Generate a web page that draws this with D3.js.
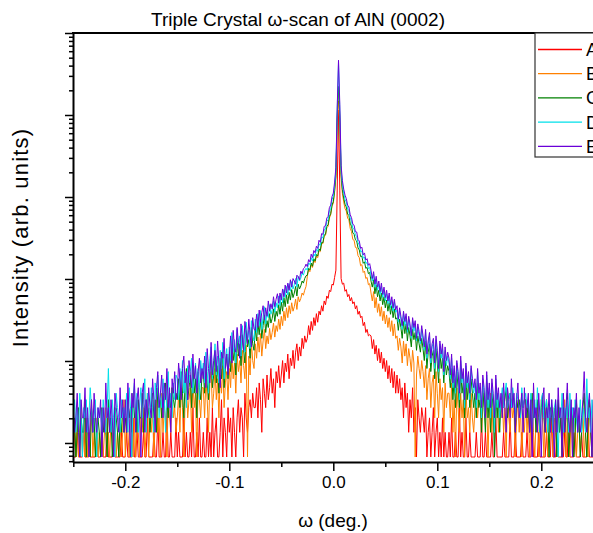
<!DOCTYPE html>
<html>
<head>
<meta charset="utf-8">
<script src="https://cdn.jsdelivr.net/npm/d3@7"></script>
<style>
  body { margin: 0; background: #fff; }
  svg { display: block; font-family: "Liberation Sans", Arial, sans-serif; }
</style>
</head>
<body>
<svg id="chart" width="593" height="533"></svg>
<script>
//scan grid: omega from -0.25 to 0.25 deg, step 0.00125 (401 points)
var omegaStart = -0.25;
var omegaStep = 0.00125;
var seriesNames = ["A", "B", "C", "D", "E"];
var seriesColors = ["#ff0000", "#ff8000", "#008000", "#00e0ea", "#6a00d8"];
var xTickLabels = ["-0.2", "-0.1", "0.0", "0.1", "0.2"];
var xTickValues = [-0.2, -0.1, 0.0, 0.1, 0.2];
var xMinorValues = [-0.25, -0.15, -0.05, 0.05, 0.15, 0.25];

//counts: left wing, peak, right wing
var countsA = [
  1,1,1,2,1,1,1,1,3,1,1,1,2,1,1,1,1,1,2,1,
  1,1,2,1,1,1,3,1,1,1,1,2,1,1,1,1,1,2,1,1,
  1,2,1,1,1,1,3,1,1,2,1,1,1,1,2,1,1,3,1,1,
  1,1,2,1,1,3,1,1,1,2,1,1,4,1,1,2,1,1,1,3,
  1,2,1,1,1,3,1,2,1,1,2,1,4,1,1,2,1,3,1,1,
  2,1,1,3,1,2,1,4,1,2,3,1,1,2,5,1,3,2,1,4,
  2,3,1,4,2,1,3,5,2,4,3,1,6,3,2,4,5,3,6,4,
  4,7,3,8,5,2,9,6,4,10,5,7,12,6,9,4,11,8,13,7,
  10,15,8,14,11,18,9,16,13,20,12,19,24,15,22,17,28,21,30,25,
  28,40,31,45,35,50,40,56,44,60,54,70,60,80,72,92,86,108,104,128,125,155,190,1800,
  17000,
  1800,150,128,132,105,110,90,96,80,88,74,78,64,70,55,60,50,52,40,44,33,36,30,31,
  30,21,27,18,23,15,21,14,19,12,16,11,15,9,13,8,12,7,11,6,
  10,6,9,5,7,3,8,4,6,2,5,3,7,2,4,1,5,3,2,4,
  3,2,4,1,2,3,1,2,4,1,2,3,1,2,1,3,1,2,1,1,
  2,1,3,1,1,2,1,1,4,1,2,1,1,3,1,1,2,1,1,1,
  1,2,1,1,1,3,1,1,2,1,1,1,1,2,1,1,3,1,1,1,
  1,1,2,1,1,1,1,3,1,1,1,2,1,1,1,1,2,1,1,1,
  2,1,1,1,3,1,1,1,1,2,1,1,1,1,1,2,1,1,1,3,
  1,1,1,2,1,1,1,1,1,2,1,1,3,1,1,1,1,2,1,1,
  1,1,2,1,1,1,1,3,1,1,1,1
];
var countsB = [
  1,2,1,3,1,2,4,1,2,1,3,1,1,2,5,1,2,1,3,1,
  2,1,3,1,2,4,1,2,1,3,2,1,4,1,2,1,3,1,2,5,
  1,3,2,1,4,2,1,3,1,5,2,1,3,2,4,1,2,6,1,3,
  2,4,1,3,5,2,3,1,6,2,4,3,1,5,3,2,7,3,4,2,
  3,6,2,7,4,1,5,8,3,5,7,2,9,4,6,1,8,5,3,7,
  7,3,9,5,2,8,11,4,6,12,5,9,3,10,6,13,4,8,11,5,
  12,7,17,9,14,6,18,11,15,8,20,13,9,23,1,17,10,25,15,12,
  24,16,29,19,32,17,26,36,21,30,24,37,27,33,43,29,40,34,48,36,
  52,40,60,46,66,50,70,56,76,60,68,84,63,90,78,86,100,94,108,120,
  158,195,182,222,205,250,235,285,270,330,320,400,400,490,505,625,650,820,900,1140,1250,1700,2600,12000,
  22000,
  12000,2500,1640,1290,1070,1000,820,780,615,560,450,440,360,355,285,270,215,222,178,185,150,155,126,130,
  100,80,104,66,88,58,74,52,68,46,60,42,54,38,50,34,46,30,42,28,
  30,20,28,22,14,26,17,24,13,21,16,11,20,14,1,10,17,12,9,15,
  11,7,13,5,9,12,4,8,10,3,11,6,3,9,5,7,2,8,4,6,
  6,3,8,2,5,1,7,4,2,6,3,5,1,7,3,4,2,6,3,2,
  4,6,3,5,7,2,4,6,3,5,1,4,6,2,5,3,4,6,2,4,
  3,5,2,4,1,6,3,2,5,3,4,1,3,5,2,4,1,3,2,5,
  2,4,1,3,5,2,1,3,4,1,2,5,3,1,4,2,1,3,2,4,
  1,3,2,1,4,2,3,1,2,5,1,3,2,1,4,1,2,3,1,2,
  3,1,2,4,1,2,3,1,5,2,1,3
];
var countsC = [
  2,3,1,2,4,1,3,2,2,5,1,3,2,1,4,2,3,1,2,3,
  2,1,4,2,3,2,1,5,2,3,1,2,4,3,2,1,3,2,4,2,
  3,2,5,3,4,2,6,3,4,2,5,3,3,6,2,4,5,3,4,2,
  4,6,3,5,2,7,4,5,3,6,4,8,5,3,6,4,7,5,4,6,
  5,9,4,11,6,3,8,12,5,7,10,4,13,6,9,3,11,7,5,10,
  11,6,14,8,5,12,17,7,10,19,8,13,6,16,9,20,7,12,18,9,
  18,11,26,15,21,10,28,17,24,13,31,20,14,35,22,27,16,38,24,20,
  38,26,44,31,48,28,40,54,33,46,38,56,43,49,64,45,60,52,72,55,
  77,60,88,68,95,74,102,82,110,88,100,120,92,128,112,122,140,132,150,162,
  165,200,192,232,212,262,245,295,282,345,330,415,410,510,520,650,680,860,930,1180,1300,1780,2700,14000,
  33000,
  14000,2800,1820,1440,1210,1120,920,880,710,650,540,520,445,430,355,335,278,282,230,240,200,205,172,178,
  140,118,145,98,125,90,108,80,100,72,90,66,82,60,76,55,70,50,64,48,
  50,35,48,38,28,45,32,42,26,38,30,22,36,27,33,20,30,24,19,28,
  21,15,26,12,19,24,11,17,20,9,21,14,8,19,12,16,8,15,10,13,
  11,7,12,5,9,4,11,7,4,12,6,8,3,10,5,8,4,9,6,4,
  6,3,8,4,5,2,7,4,2,8,3,5,2,6,4,1,7,3,5,2,
  5,6,4,5,7,3,5,6,4,6,5,2,5,4,5,3,6,4,5,5,
  3,5,2,4,6,3,4,2,5,3,2,4,6,3,2,5,3,1,4,3,
  2,4,3,1,5,2,3,1,4,2,3,6,1,2,4,3,1,2,5,2,
  3,1,2,4,6,2,1,3,5,2,1,4
];
var countsD = [
  3,5,2,4,2,6,3,1,4,3,5,2,3,7,4,2,3,5,1,4,
  3,4,2,5,3,2,4,12,3,2,5,3,1,6,4,3,2,5,3,4,
  3,6,2,7,4,1,5,8,3,6,2,4,7,3,5,9,2,6,4,3,
  7,4,2,8,5,10,3,6,4,9,5,2,7,11,4,6,3,8,5,10,
  9,5,12,7,15,6,10,4,13,8,11,16,6,9,14,7,12,5,15,10,
  14,8,19,11,6,16,22,9,13,24,10,17,8,20,12,25,9,15,21,11,
  22,15,33,19,27,14,36,21,30,17,40,26,19,44,28,35,21,46,31,26,
  48,33,56,40,61,36,52,68,42,58,50,72,55,62,80,58,76,66,92,70,
  98,76,110,88,120,95,130,105,138,112,126,150,118,160,140,152,175,165,188,200,
  190,232,222,270,245,300,282,340,322,400,380,480,470,590,600,750,780,1000,1070,1380,1500,2050,3100,17000,
  64000,
  17000,3200,2100,1650,1390,1290,1060,1010,820,750,620,600,510,490,410,385,318,325,265,275,230,235,198,205,
  165,140,170,118,148,108,128,96,120,88,108,80,98,74,92,66,82,60,78,58,
  62,44,60,48,36,56,40,52,33,48,38,28,46,34,42,26,38,30,24,36,
  27,20,33,16,24,30,14,22,25,12,27,18,11,24,16,21,10,20,13,17,
  14,9,16,7,12,6,14,10,5,15,8,11,4,13,7,10,5,12,8,6,
  8,4,11,5,7,3,9,6,3,10,4,7,3,8,5,2,9,4,6,3,
  5,7,4,6,8,4,5,6,4,7,5,3,6,5,4,3,7,4,5,6,
  4,5,3,6,2,4,5,3,7,4,2,5,6,3,4,5,2,4,3,5,
  2,4,5,3,1,4,3,6,2,4,3,5,2,6,3,4,2,5,3,2,
  3,5,2,4,3,2,9,3,4,2,5,3
];
var countsE = [
  4,2,3,6,2,1,5,3,3,7,2,4,1,3,5,2,6,3,2,4,
  3,5,1,4,2,8,3,4,2,5,3,1,6,4,3,2,7,3,5,2,
  5,2,8,3,1,6,4,9,2,5,7,3,1,6,8,2,5,3,7,4,
  3,9,5,2,7,11,4,6,10,3,8,5,12,4,7,2,9,6,11,5,
  6,14,9,5,12,17,8,11,5,15,10,7,18,9,13,6,11,16,8,12,
  9,17,7,21,12,8,25,10,15,20,11,26,14,7,19,16,28,12,18,10,
  17,30,14,35,22,19,38,25,16,42,28,20,45,33,24,48,30,22,50,36,
  35,55,38,62,44,58,70,47,66,52,80,60,74,64,90,68,84,98,75,100,
  82,112,90,125,100,132,108,145,118,150,140,128,165,158,145,185,172,198,205,225,
  210,255,240,298,270,330,310,372,350,440,415,530,520,650,660,820,860,1100,1180,1500,1650,2250,3400,18000,
  69000,
  20000,3600,2350,1850,1560,1420,1180,1120,900,830,690,670,560,555,450,430,350,362,292,308,252,262,218,228,
  190,150,182,128,160,118,140,104,132,96,118,88,108,80,100,72,90,66,84,62,
  70,48,66,52,40,60,45,56,36,52,42,30,50,38,46,28,42,34,26,40,
  30,22,36,18,26,33,16,24,28,14,30,20,12,26,18,24,11,22,15,19,
  16,10,18,8,13,7,15,11,6,17,9,12,5,14,8,11,6,13,9,7,
  9,5,12,6,8,4,10,7,3,11,5,8,4,9,6,3,10,5,7,4,
  6,3,8,4,2,7,5,3,9,4,6,2,5,8,3,4,6,2,7,3,
  4,6,2,5,1,8,3,4,2,6,3,1,5,7,2,4,3,6,2,5,
  3,1,5,2,7,3,4,1,6,2,4,8,3,2,5,1,4,3,6,2,
  4,2,3,5,11,3,2,4,6,3,1,5
];
var allCounts = [countsA, countsB, countsC, countsD, countsE];

//y axis decades sit at 1.482 x 10^k counts
var decadeBase = 1.482;

var svg = d3.select("#chart");
var plotLeft = 73, plotTop = 33, plotBottom = 462, plotRight = 593;

var x = d3.scaleLinear().domain([-0.25, 0.25]).range([73.3, 593.3]);
var y = d3.scaleLog().domain([0.869, 148200]).range([plotBottom, plotTop]);

// -- clip area for the curves
svg.append("defs").append("clipPath").attr("id", "plotClip")
  .append("rect")
  .attr("x", plotLeft).attr("y", plotTop)
  .attr("width", plotRight - plotLeft).attr("height", plotBottom - plotTop);

// -- curves, A drawn first, E on top
var line = d3.line()
  .x(function(d, i) { return x(omegaStart + i * omegaStep); })
  .y(function(d) { return y(d); });

var curves = svg.append("g").attr("clip-path", "url(#plotClip)");
allCounts.forEach(function(counts, s) {
  curves.append("path")
    .datum(counts)
    .attr("fill", "none")
    .attr("stroke", seriesColors[s])
    .attr("stroke-width", 1)
    .attr("d", line);
});

// -- y ticks (no labels)
var yMajor = [], yMinor = [];
for (var k = -1; k <= 5; k++) {
  var base = decadeBase * Math.pow(10, k);
  if (k >= 0) yMajor.push(base);
  for (var m = 2; m <= 9; m++) {
    var v = base * m;
    if (v > 0.87 && v < 148000) yMinor.push(v);
  }
}
var yAxisMinor = svg.append("g")
  .attr("transform", "translate(" + plotLeft + ",0)")
  .call(d3.axisLeft(y).tickValues(yMinor).tickSize(4).tickSizeOuter(0).tickFormat(""));
yAxisMinor.select(".domain").remove();
var yAxisMajor = svg.append("g")
  .attr("transform", "translate(" + plotLeft + ",0)")
  .call(d3.axisLeft(y).tickValues(yMajor).tickSize(8).tickSizeOuter(0).tickFormat(""));

// -- x ticks
var xAxisMinor = svg.append("g")
  .attr("transform", "translate(0," + plotBottom + ")")
  .call(d3.axisBottom(x).tickValues(xMinorValues).tickSize(5).tickSizeOuter(0).tickFormat(""));
xAxisMinor.select(".domain").remove();
var xAxisMajor = svg.append("g")
  .attr("transform", "translate(0," + plotBottom + ")")
  .call(d3.axisBottom(x).tickValues(xTickValues).tickSize(9).tickSizeOuter(0)
    .tickFormat(function(d, i) { return xTickLabels[i]; }));
xAxisMajor.selectAll("text")
  .attr("font-size", 17)
  .attr("font-family", "Liberation Sans, Arial, sans-serif")
  .attr("fill", "#000")
  .attr("dy", "0.8em");

svg.selectAll(".tick line").attr("stroke", "#000").attr("stroke-width", 1.5);
svg.selectAll(".domain").attr("stroke", "#000").attr("stroke-width", 2);

// -- top frame line
svg.append("line")
  .attr("x1", plotLeft - 1).attr("x2", plotRight)
  .attr("y1", plotTop).attr("y2", plotTop)
  .attr("stroke", "#000").attr("stroke-width", 2);

// -- titles
svg.append("text")
  .attr("x", 298).attr("y", 26)
  .attr("text-anchor", "middle")
  .attr("font-size", 19)
  .text("Triple Crystal \u03c9-scan of AlN (0002)");
svg.append("text")
  .attr("x", 333).attr("y", 527)
  .attr("text-anchor", "middle")
  .attr("font-size", 19)
  .text("\u03c9 (deg.)");
svg.append("text")
  .attr("transform", "translate(28,237.5) rotate(-90)")
  .attr("text-anchor", "middle")
  .attr("font-size", 22)
  .attr("letter-spacing", 1.2)
  .text("Intensity (arb. units)");

// -- legend (runs past the right edge, as in the original)
var legend = svg.append("g");
legend.append("rect")
  .attr("x", 535).attr("y", plotTop)
  .attr("width", 80).attr("height", 124)
  .attr("fill", "#fff").attr("stroke", "#333").attr("stroke-width", 1.2);
seriesNames.forEach(function(name, s) {
  var ly = 49.5 + s * 24.2;
  legend.append("line")
    .attr("x1", 538).attr("x2", 582)
    .attr("y1", ly).attr("y2", ly)
    .attr("stroke", seriesColors[s]).attr("stroke-width", 1.3);
  legend.append("text")
    .attr("x", 586).attr("y", ly + 6.5)
    .attr("font-size", 18)
    .text(name);
});
</script>
</body>
</html>
